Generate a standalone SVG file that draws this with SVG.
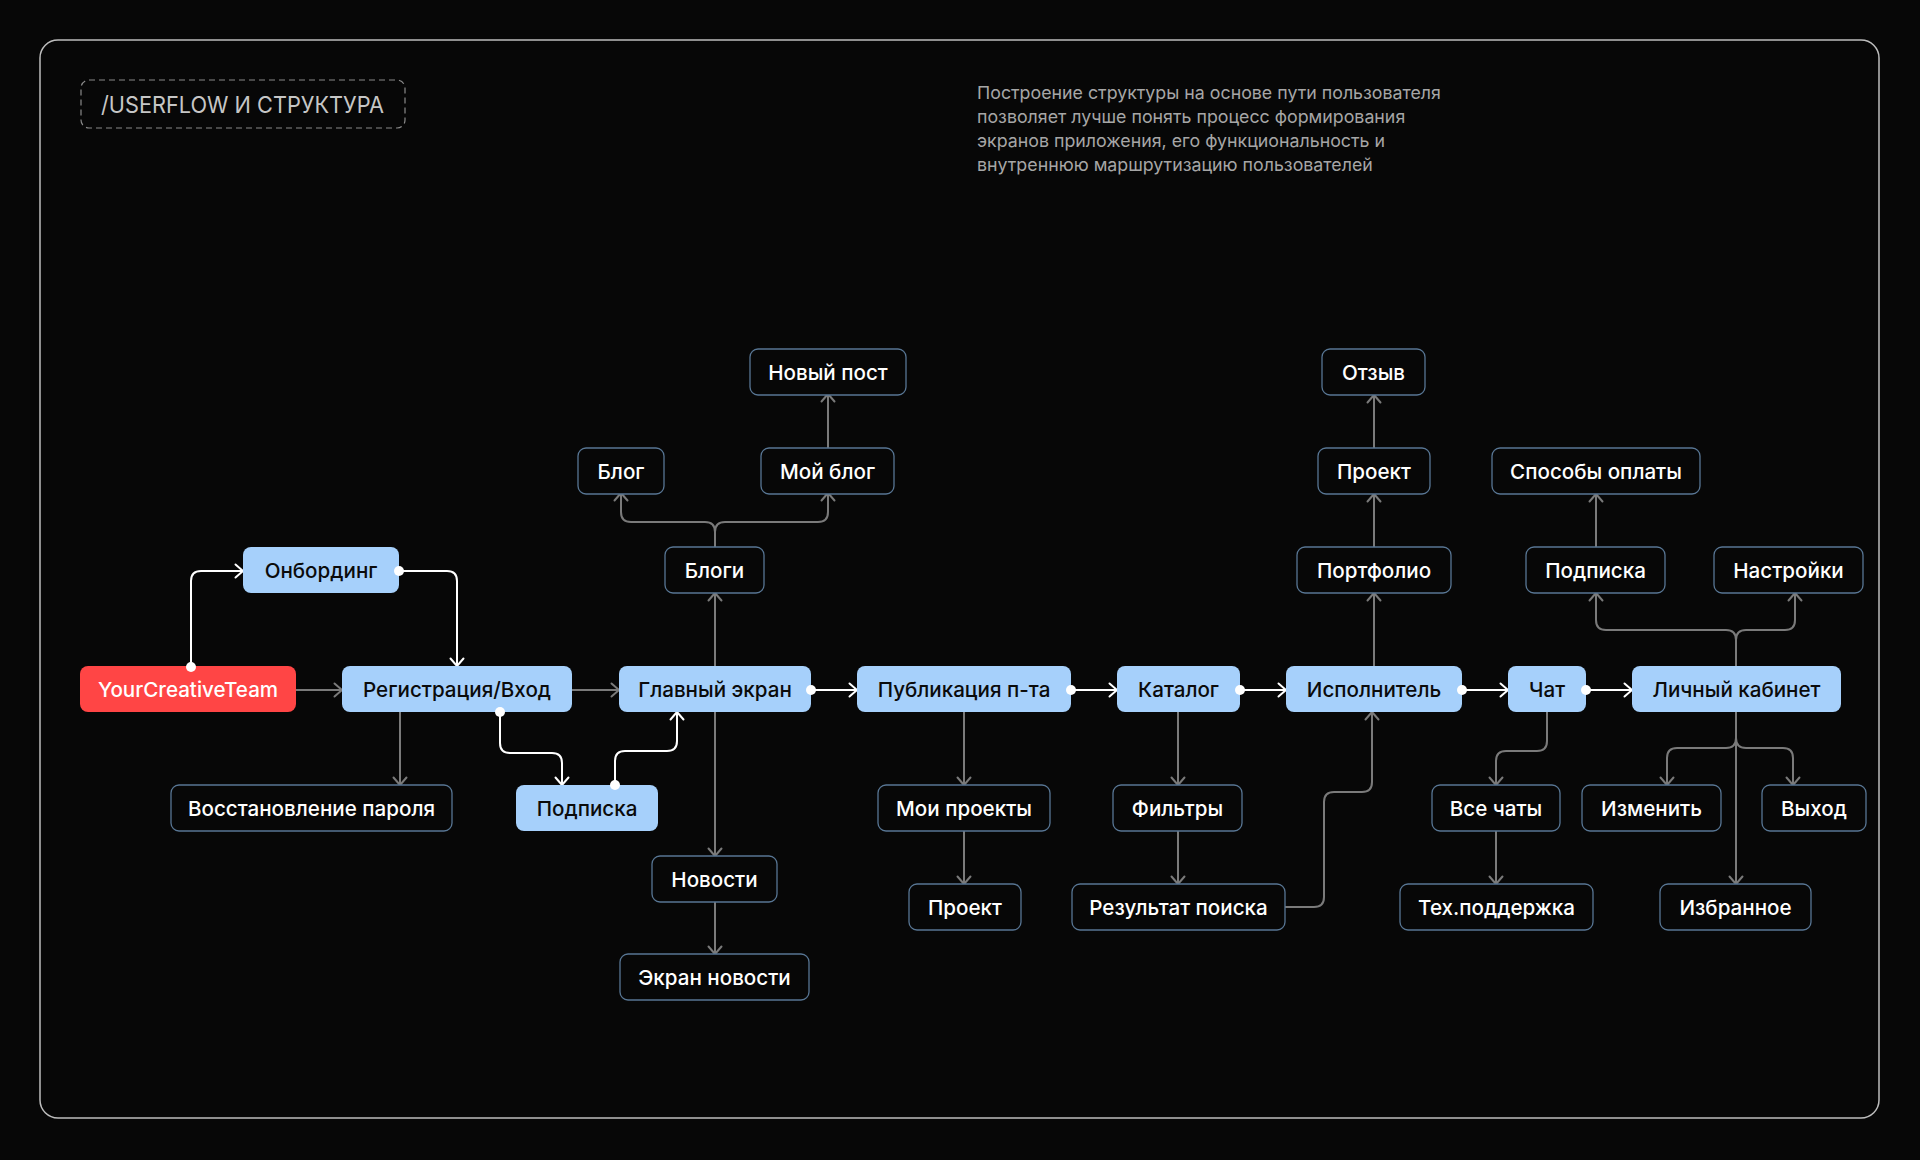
<svg xmlns="http://www.w3.org/2000/svg" width="1920" height="1160" viewBox="0 0 1920 1160">
<defs>
<style>
.bg{fill:#070707}
.frame{fill:none;stroke:#bdbdbd;stroke-width:1.5}
.tbox{fill:none;stroke:#8a8a8a;stroke-width:1.2;stroke-dasharray:6 4}
.ttl{font-family:Inter,"Liberation Sans",sans-serif;font-size:23px;fill:#c6c6c6}
.desc{font-family:Inter,"Liberation Sans",sans-serif;font-size:17.8px;fill:#a6a6a6}
.blue rect{fill:#a6d0fb}
.blue text{fill:#0b0b0b}
.red rect{fill:#ff4545}
.red text{fill:#ffffff}
.dark rect{fill:#070707;stroke:#587694;stroke-width:1.3}
.dark text{fill:#ffffff}
.node text{font-family:Inter,"Liberation Sans",sans-serif;font-size:20.6px;font-weight:500;text-anchor:middle}
.g{fill:none;stroke:#7a7a7a;stroke-width:2;marker-end:url(#ag)}
.w{fill:none;stroke:#ffffff;stroke-width:2;marker-end:url(#aw)}
.dot{fill:#ffffff}
</style>
<marker id="ag" viewBox="-10 -8 12 16" refX="0" refY="0" markerWidth="12" markerHeight="16" markerUnits="userSpaceOnUse" orient="auto">
<path d="M-7.5,-6.5 L0,0 L-7.5,6.5" fill="none" stroke="#7a7a7a" stroke-width="2" stroke-linecap="round" stroke-linejoin="round"/>
</marker>
<marker id="aw" viewBox="-10 -8 12 16" refX="0" refY="0" markerWidth="12" markerHeight="16" markerUnits="userSpaceOnUse" orient="auto">
<path d="M-7.5,-6.5 L0,0 L-7.5,6.5" fill="none" stroke="#ffffff" stroke-width="2" stroke-linecap="round" stroke-linejoin="round"/>
</marker>
</defs>
<rect class="bg" x="0" y="0" width="1920" height="1160"/>
<rect class="frame" x="40" y="40" width="1839" height="1078" rx="18"/>
<g id="title">
<rect class="tbox" x="81" y="80" width="324" height="48" rx="8"/>
<text class="ttl" x="101" y="113" textLength="283" lengthAdjust="spacingAndGlyphs">/USERFLOW И СТРУКТУРА</text>
</g>
<g id="description">
<text class="desc" x="977" y="99">Построение структуры на основе пути пользователя</text>
<text class="desc" x="977" y="123">позволяет лучше понять процесс формирования</text>
<text class="desc" x="977" y="147">экранов приложения, его функциональность и</text>
<text class="desc" x="977" y="171">внутреннюю маршрутизацию пользователей</text>
</g>
<g id="connectors">
<path class="g" d="M296 690 H342"/>
<path class="g" d="M572 690 H619"/>
<path class="g" d="M400 712 V785"/>
<path class="g" d="M715 666 V593"/>
<path class="g" d="M715 547 V532 Q715 522 705 522 H631 Q621 522 621 512 V493"/>
<path class="g" d="M715 532 Q715 522 725 522 H818 Q828 522 828 512 V493"/>
<path class="g" d="M828 448 V394"/>
<path class="g" d="M715 712 V856"/>
<path class="g" d="M715 901 V954"/>
<path class="g" d="M964 712 V785"/>
<path class="g" d="M964 831 V884"/>
<path class="g" d="M1178 712 V785"/>
<path class="g" d="M1178 831 V884"/>
<path class="g" d="M1285 907 H1314 Q1324 907 1324 897 V802 Q1324 792 1334 792 H1362 Q1372 792 1372 782 V712"/>
<path class="g" d="M1374 666 V593"/>
<path class="g" d="M1374 547 V494"/>
<path class="g" d="M1374 448 V395"/>
<path class="g" d="M1547 712 V741 Q1547 751 1537 751 H1506 Q1496 751 1496 761 V785"/>
<path class="g" d="M1496 831 V884"/>
<path class="g" d="M1736 666 V640 Q1736 630 1726 630 H1606 Q1596 630 1596 620 V593"/>
<path class="g" d="M1736 640 Q1736 630 1746 630 H1785 Q1795 630 1795 620 V593"/>
<path class="g" d="M1596 547 V494"/>
<path class="g" d="M1736 712 V884"/>
<path class="g" d="M1736 738 Q1736 748 1726 748 H1677 Q1667 748 1667 758 V785"/>
<path class="g" d="M1736 738 Q1736 748 1746 748 H1783 Q1793 748 1793 758 V785"/>
<path class="w" d="M191 667 V581 Q191 571 201 571 H243"/>
<path class="w" d="M399 571 H447 Q457 571 457 581 V666"/>
<path class="w" d="M500 712 V743 Q500 753 510 753 H552 Q562 753 562 763 V785"/>
<path class="w" d="M615 785 V761 Q615 751 625 751 H667 Q677 751 677 741 V712"/>
<path class="w" d="M811 690 H857"/>
<path class="w" d="M1071 690 H1117"/>
<path class="w" d="M1240 690 H1286"/>
<path class="w" d="M1462 690 H1508"/>
<path class="w" d="M1586 690 H1632"/>
</g>
<g id="n-yct" class="node red"><rect x="80" y="666" width="216" height="46" rx="8"/><text x="188" y="697">YourCreativeTeam</text></g>
<g id="n-onboarding" class="node blue"><rect x="243" y="547" width="156" height="46" rx="8"/><text x="321" y="578">Онбординг</text></g>
<g id="n-register" class="node blue"><rect x="342" y="666" width="230" height="46" rx="8"/><text x="457" y="697">Регистрация/Вход</text></g>
<g id="n-restore" class="node dark"><rect x="171" y="785" width="281" height="46" rx="8"/><text x="311.5" y="816">Восстановление пароля</text></g>
<g id="n-sub1" class="node blue"><rect x="516" y="785" width="142" height="46" rx="8"/><text x="587" y="816">Подписка</text></g>
<g id="n-main" class="node blue"><rect x="619" y="666" width="192" height="46" rx="8"/><text x="715" y="697">Главный экран</text></g>
<g id="n-blogs" class="node dark"><rect x="665" y="547" width="99" height="46" rx="8"/><text x="714.5" y="578">Блоги</text></g>
<g id="n-blog" class="node dark"><rect x="578" y="448" width="86" height="46" rx="8"/><text x="621" y="479">Блог</text></g>
<g id="n-myblog" class="node dark"><rect x="761" y="448" width="133" height="46" rx="8"/><text x="827.5" y="479">Мой блог</text></g>
<g id="n-newpost" class="node dark"><rect x="750" y="349" width="156" height="46" rx="8"/><text x="828" y="380">Новый пост</text></g>
<g id="n-news" class="node dark"><rect x="652" y="856" width="125" height="46" rx="8"/><text x="714.5" y="887">Новости</text></g>
<g id="n-newsscreen" class="node dark"><rect x="620" y="954" width="189" height="46" rx="8"/><text x="714.5" y="985">Экран новости</text></g>
<g id="n-publish" class="node blue"><rect x="857" y="666" width="214" height="46" rx="8"/><text x="964" y="697">Публикация п-та</text></g>
<g id="n-myprojects" class="node dark"><rect x="878" y="785" width="172" height="46" rx="8"/><text x="964" y="816">Мои проекты</text></g>
<g id="n-project1" class="node dark"><rect x="909" y="884" width="112" height="46" rx="8"/><text x="965" y="915">Проект</text></g>
<g id="n-catalog" class="node blue"><rect x="1117" y="666" width="123" height="46" rx="8"/><text x="1178.5" y="697">Каталог</text></g>
<g id="n-filters" class="node dark"><rect x="1113" y="785" width="129" height="46" rx="8"/><text x="1177.5" y="816">Фильтры</text></g>
<g id="n-results" class="node dark"><rect x="1072" y="884" width="213" height="46" rx="8"/><text x="1178.5" y="915">Результат поиска</text></g>
<g id="n-executor" class="node blue"><rect x="1286" y="666" width="176" height="46" rx="8"/><text x="1374" y="697">Исполнитель</text></g>
<g id="n-portfolio" class="node dark"><rect x="1297" y="547" width="154" height="46" rx="8"/><text x="1374" y="578">Портфолио</text></g>
<g id="n-project2" class="node dark"><rect x="1318" y="448" width="112" height="46" rx="8"/><text x="1374" y="479">Проект</text></g>
<g id="n-review" class="node dark"><rect x="1322" y="349" width="103" height="46" rx="8"/><text x="1373.5" y="380">Отзыв</text></g>
<g id="n-chat" class="node blue"><rect x="1508" y="666" width="78" height="46" rx="8"/><text x="1547" y="697">Чат</text></g>
<g id="n-allchats" class="node dark"><rect x="1432" y="785" width="128" height="46" rx="8"/><text x="1496" y="816">Все чаты</text></g>
<g id="n-support" class="node dark"><rect x="1400" y="884" width="193" height="46" rx="8"/><text x="1496.5" y="915">Тех.поддержка</text></g>
<g id="n-account" class="node blue"><rect x="1632" y="666" width="209" height="46" rx="8"/><text x="1736.5" y="697">Личный кабинет</text></g>
<g id="n-sub2" class="node dark"><rect x="1526" y="547" width="139" height="46" rx="8"/><text x="1595.5" y="578">Подписка</text></g>
<g id="n-settings" class="node dark"><rect x="1714" y="547" width="149" height="46" rx="8"/><text x="1788.5" y="578">Настройки</text></g>
<g id="n-payment" class="node dark"><rect x="1492" y="448" width="208" height="46" rx="8"/><text x="1596" y="479">Способы оплаты</text></g>
<g id="n-edit" class="node dark"><rect x="1582" y="785" width="139" height="46" rx="8"/><text x="1651.5" y="816">Изменить</text></g>
<g id="n-exit" class="node dark"><rect x="1762" y="785" width="104" height="46" rx="8"/><text x="1814" y="816">Выход</text></g>
<g id="n-favorites" class="node dark"><rect x="1660" y="884" width="151" height="46" rx="8"/><text x="1735.5" y="915">Избранное</text></g>
<g id="dots">
<circle class="dot" cx="191" cy="667" r="5"/>
<circle class="dot" cx="399" cy="571" r="5"/>
<circle class="dot" cx="500" cy="712" r="5"/>
<circle class="dot" cx="615" cy="785" r="5"/>
<circle class="dot" cx="811" cy="690" r="5"/>
<circle class="dot" cx="1071" cy="690" r="5"/>
<circle class="dot" cx="1240" cy="690" r="5"/>
<circle class="dot" cx="1462" cy="690" r="5"/>
<circle class="dot" cx="1586" cy="690" r="5"/>
</g>
</svg>
